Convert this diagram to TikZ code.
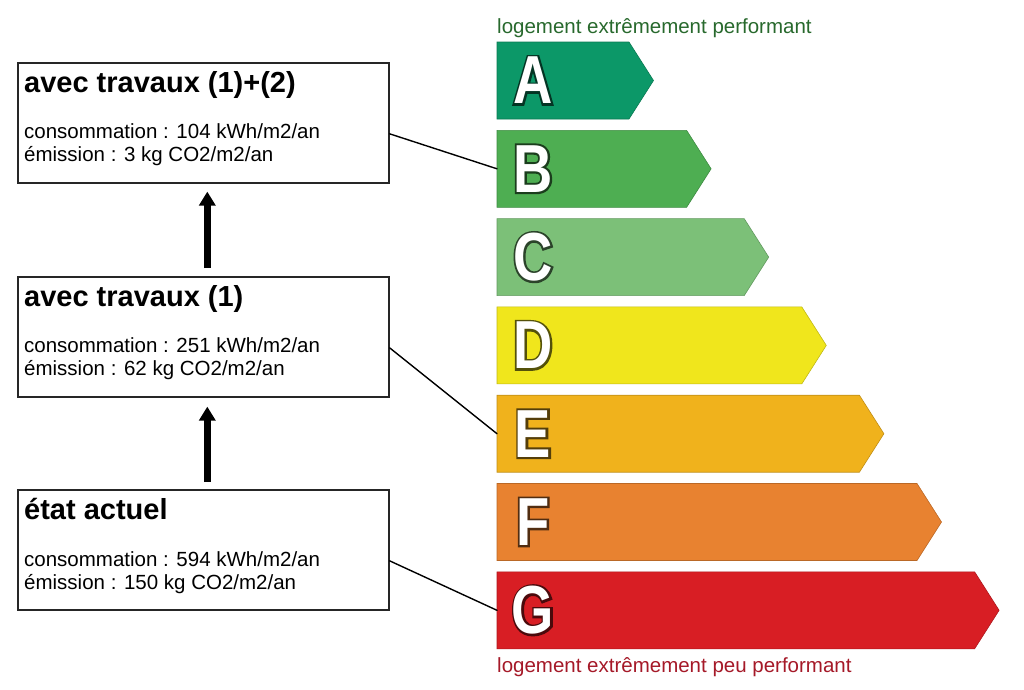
\documentclass[tikz,border=0pt]{standalone}
\usepackage{fontspec}
\setmainfont{Liberation Sans}
\newfontfamily\lettrefont[FakeStretch=0.8]{Liberation Sans Bold}
\newfontfamily\lettregras[FakeStretch=0.8,FakeBold=6]{Liberation Sans Bold}
\usetikzlibrary{arrows.meta}
\definecolor{clsA}{RGB}{12,152,104}
\definecolor{clsB}{RGB}{78,174,82}
\definecolor{clsC}{RGB}{124,192,120}
\definecolor{clsD}{RGB}{240,230,28}
\definecolor{clsE}{RGB}{240,178,28}
\definecolor{clsF}{RGB}{232,130,48}
\definecolor{clsG}{RGB}{216,30,36}
\definecolor{vertfonce}{RGB}{40,105,45}
\definecolor{rougefonce}{RGB}{165,25,40}
\newcommand{\lettre}[2]{%
  \makebox[0pt][c]{\textcolor{#1}{\lettregras\fontsize{68}{68}\selectfont #2}}%
  \makebox[0pt][c]{\textcolor{white}{\lettrefont\fontsize{68}{68}\selectfont #2}}}

\begin{document}
\begin{tikzpicture}[x=1pt,y=-1pt,
    boite/.style={draw=black!85,line width=1.6pt,anchor=north west,minimum width=371pt,minimum height=120pt,inner sep=0pt},
    titre/.style={anchor=base west,inner sep=0pt,font=\fontsize{29}{30}\selectfont\bfseries},
    texte/.style={anchor=base west,inner sep=0pt,font=\fontsize{20.5}{23}\selectfont},
    fleche/.style={-{Triangle[length=14pt,width=16pt]},line width=6.5pt},
    lien/.style={line width=1.4pt,line cap=round}]
  \useasboundingbox (0,0) rectangle (1024,689);

  \node[texte,text=vertfonce] (haut) at (497,33) {logement extrêmement performant};
  \node[texte,text=rougefonce] (bas) at (497,672) {logement extrêmement peu performant};

  \foreach \l/\c/\i in {A/clsA/0,B/clsB/1,C/clsC/2,D/clsD/3,E/clsE/4,F/clsF/5,G/clsG/6}{
    \pgfmathsetmacro{\ytop}{42+88.3*\i}
    \pgfmathsetmacro{\ybot}{\ytop+77}
    \pgfmathsetmacro{\ymid}{\ytop+38.5}
    \pgfmathsetmacro{\xr}{629+57.6*\i}
    \pgfmathsetmacro{\xt}{\xr+24.5}
    \fill[\c,draw=\c!80!black,line width=.6pt] (497,\ytop) -- (\xr,\ytop) -- (\xt,\ymid) -- (\xr,\ybot) -- (497,\ybot) -- cycle;
    \coordinate (bar\l) at (497,\ymid);
    \node[inner sep=0pt] (let\l) at (533,\ymid) {\lettre{\c!35!black}{\l}};
  }

  \node[boite] (b1) at (17,62) {};
  \node[titre] (t1) at (24,92) {avec travaux (1)+(2)};
  \node[texte] (c1) at (24,138) {consommation : 104 kWh/m2/an};
  \node[texte] (e1) at (24,161) {émission : 3 kg CO2/m2/an};

  \node[boite] (b2) at (17,276) {};
  \node[titre] (t2) at (24,306) {avec travaux (1)};
  \node[texte] (c2) at (24,352) {consommation : 251 kWh/m2/an};
  \node[texte] (e2) at (24,375) {émission : 62 kg CO2/m2/an};

  \node[boite] (b3) at (17,489) {};
  \node[titre] (t3) at (24,519) {état actuel};
  \node[texte] (c3) at (24,566) {consommation : 594 kWh/m2/an};
  \node[texte] (e3) at (24,589) {émission : 150 kg CO2/m2/an};

  \draw[fleche,shorten <=7pt,shorten >=9pt] ([xshift=4pt]b3.north) -- ([xshift=4pt]b2.south);
  \draw[fleche,shorten <=8pt,shorten >=8pt] ([xshift=4pt]b2.north) -- ([xshift=4pt]b1.south);

  \draw[lien] ([yshift=-11pt]b1.east) -- (barB);
  \draw[lien] ([yshift=-11pt]b2.east) -- (barE);
  \draw[lien] ([yshift=-11pt]b3.east) -- (barG);
\end{tikzpicture}
\end{document}
